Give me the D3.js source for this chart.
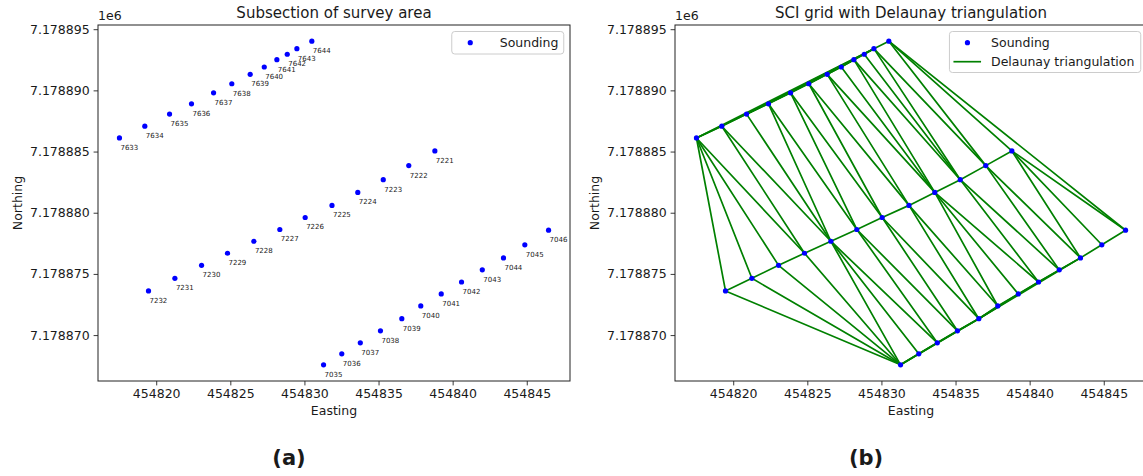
<!DOCTYPE html>
<html><head><meta charset="utf-8">
<script src="https://cdn.jsdelivr.net/npm/d3@7"></script>
<style>
body{margin:0;background:#fff}
text{font-family:"DejaVu Sans",sans-serif;fill:#1a1a1a}
</style>
</head><body>
<svg id="c" width="1143" height="476"></svg>
<script>
// ---- data ----
const pointIds = [
  "7633","7634","7635","7636","7637","7638","7639","7640","7641","7642","7643","7644",
  "7221","7222","7223","7224","7225","7226","7227","7228","7229","7230","7231","7232",
  "7035","7036","7037","7038","7039","7040","7041","7042","7043","7044","7045","7046"
];
const easting = [
  454817.52,454819.23,454820.90,454822.38,454823.87,454825.10,454826.34,454827.29,454828.14,454828.84,454829.49,454830.50,
  454838.80,454837.04,454835.32,454833.60,454831.86,454830.05,454828.34,454826.59,454824.81,454823.06,454821.26,454819.48,
  454831.29,454832.52,454833.77,454835.13,454836.57,454837.85,454839.23,454840.60,454842.00,454843.43,454844.87,454846.47
];
const northing = [
  7178886.11,7178887.07,7178888.06,7178888.90,7178889.80,7178890.54,7178891.31,7178891.91,7178892.51,7178892.95,7178893.41,7178894.02,
  7178885.05,7178883.85,7178882.70,7178881.66,7178880.60,7178879.61,7178878.63,7178877.67,7178876.69,7178875.70,7178874.64,7178873.61,
  7178867.57,7178868.47,7178869.37,7178870.35,7178871.34,7178872.38,7178873.36,7178874.34,7178875.33,7178876.31,7178877.38,7178878.57
];
const xTicks = [454820,454825,454830,454835,454840,454845];
const yTicks = [7178870,7178875,7178880,7178885,7178890,7178895];
const titles = ["Subsection of survey area","SCI grid with Delaunay triangulation"];
const panelTags = ["(a)","(b)"];

const pts = pointIds.map((id,i)=>({id, x:easting[i], y:northing[i]}));

const svg = d3.select("#c");
const axTop = 25, axBottom = 381;
const panels = [{left:98,right:570},{left:675,right:1147}];

function padded(arr){
  const [a,b] = d3.extent(arr); const m=(b-a)*0.05; return [a-m,b+m];
}
const xDom = padded(easting), yDom = padded(northing);

// Delaunay edges (computed in local data units)
const del = d3.Delaunay.from(pts, d=>d.x-454800, d=>d.y-7178800);
const edgeSet = new Map();
for(let i=0;i<del.triangles.length;i+=3){
  for(let k=0;k<3;k++){
    const a=del.triangles[i+k], b=del.triangles[i+(k+1)%3];
    const key = Math.min(a,b)+"-"+Math.max(a,b);
    if(!edgeSet.has(key)) edgeSet.set(key,[a,b]);
  }
}
const edges = Array.from(edgeSet.values());

panels.forEach((p,pi)=>{
  const x = d3.scaleLinear().domain(xDom).range([p.left,p.right]);
  const y = d3.scaleLinear().domain(yDom).range([axBottom,axTop]);
  const g = svg.append("g");

  if(pi===1){
    g.append("g").selectAll("line").data(edges).join("line")
      .attr("x1",d=>x(pts[d[0]].x)).attr("y1",d=>y(pts[d[0]].y))
      .attr("x2",d=>x(pts[d[1]].x)).attr("y2",d=>y(pts[d[1]].y))
      .attr("stroke","#008000").attr("stroke-width",1.7).attr("stroke-linecap","round");
  }
  g.append("g").selectAll("circle").data(pts).join("circle")
    .attr("cx",d=>x(d.x)).attr("cy",d=>y(d.y)).attr("r",2.6).attr("fill","#0000ff");
  if(pi===0){
    g.append("g").selectAll("text").data(pts).join("text")
      .attr("x",d=>x(d.x)+1).attr("y",d=>y(d.y)+12)
      .attr("font-size",7).text(d=>d.id);
  }

  const xa = d3.axisBottom(x).tickValues(xTicks).tickSize(4.4).tickPadding(4).tickFormat(d3.format("d"));
  const ya = d3.axisLeft(y).tickValues(yTicks).tickSize(4.4).tickPadding(4).tickFormat(d=>(d/1e6).toFixed(6));
  const gx = g.append("g").attr("transform",`translate(0,${axBottom})`).call(xa);
  const gy = g.append("g").attr("transform",`translate(${p.left},0)`).call(ya);
  [gx,gy].forEach(ax=>{
    ax.select(".domain").remove();
    ax.selectAll(".tick line").attr("stroke","#222").attr("stroke-width",0.9);
    ax.selectAll(".tick text").attr("font-size",12.5).attr("fill","#1a1a1a").attr("font-family","DejaVu Sans");
  });
  g.append("rect").attr("x",p.left).attr("y",axTop).attr("width",p.right-p.left).attr("height",axBottom-axTop)
    .attr("fill","none").attr("stroke","#222").attr("stroke-width",1);

  const cx = (p.left+p.right)/2;
  g.append("text").attr("x",cx).attr("y",17.5).attr("text-anchor","middle").attr("font-size",15).text(titles[pi]);
  g.append("text").attr("x",p.left).attr("y",20).attr("font-size",12.5).text("1e6");
  g.append("text").attr("x",cx).attr("y",415).attr("text-anchor","middle").attr("font-size",12.5).text("Easting");
  g.append("text").attr("transform",`translate(${p.left-80},${(axTop+axBottom)/2}) rotate(-90)`)
    .attr("text-anchor","middle").attr("dy","0.35em").attr("font-size",12.5).text("Northing");
  g.append("text").attr("x",cx-45).attr("y",465).attr("text-anchor","middle").attr("font-size",21)
    .attr("font-weight","bold").text(panelTags[pi]);

  const entries = pi===0 ? ["Sounding"] : ["Sounding","Delaunay triangulation"];
  const bw = pi===0 ? 112 : 191.3;
  const bh = pi===0 ? 22.5 : 41;
  const bx = p.right-6.25-bw, by = 31.5;
  const markerX = pi===0 ? bx+18.5 : bx+18;
  const textX = pi===0 ? bx+48 : bx+41.6;
  const lg = g.append("g");
  lg.append("rect").attr("x",bx).attr("y",by).attr("width",bw).attr("height",bh).attr("rx",3)
    .attr("fill","#fff").attr("fill-opacity",0.85).attr("stroke","#cccccc").attr("stroke-width",1);
  entries.forEach((e,i)=>{
    const ey = by+11.2+i*19;
    if(i===0){
      lg.append("circle").attr("cx",markerX).attr("cy",ey).attr("r",2.6).attr("fill","#0000ff");
    } else {
      lg.append("line").attr("x1",bx+4).attr("x2",bx+31.6).attr("y1",ey).attr("y2",ey)
        .attr("stroke","#008000").attr("stroke-width",1.7);
    }
    lg.append("text").attr("x",textX).attr("y",ey+4.5).attr("font-size",12.5).text(e);
  });
});
</script>
</body></html>
